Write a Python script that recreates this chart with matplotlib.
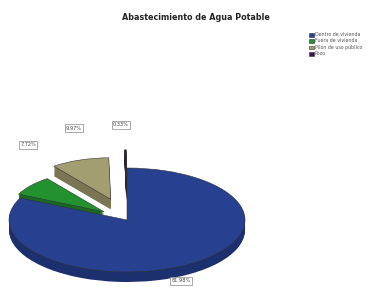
import matplotlib
matplotlib.use("Agg")
import matplotlib.pyplot as plt
import numpy as np

title = "Abastecimiento de Agua Potable"
categories = ["Dentro de vivienda", "Fuera de vivienda", "Pilón de uso público", "Pozo"]
percents = [81.98, 7.72, 9.97, 0.33]
colors = ["#27408f", "#23912f", "#a39e72", "#3d1846"]
side_colors = ["#1c2f6e", "#186a22", "#7a7654", "#20102a"]
explode = [0, 0.25, 0.42, 0.55]

fig = plt.figure(figsize=(3.92, 2.88), dpi=100)
ax = fig.add_axes([0, 0, 1, 1])

k = 118 / 52          # squash factor for the oblique view
cx, cy = 127, 68 * k  # pie center in data units
r = 118
depth = 10 * k
expl = [e * r for e in explode]  # pie() takes explode in data units
shrink = 0.8  # pulled-out slices look smaller in the original


def draw(center, cols, **wp):
    ws, _ = ax.pie(percents, colors=cols, explode=expl, startangle=90,
                   counterclock=False, radius=r, center=center, wedgeprops=wp)
    for w, e in zip(ws, explode):
        if e:
            w.set_radius(r * shrink)
    return ws


# side of the 3D pie: stacked copies underneath
for d in np.linspace(depth, 0, 12)[:-1]:
    draw((cx, cy - d), side_colors, linewidth=0)

wedges = draw((cx, cy), colors, linewidth=0.4, edgecolor="#333333")

ax.set_aspect("auto")
ax.set_xlim(0, 392)
ax.set_ylim(0, 288 * k)
ax.axis("off")

# percentage boxes
label_pos = [(181, 281), (28, 145), (74, 128), (121, 125)]
for p, (x, y) in zip(percents, label_pos):
    fig.text(x / 392, 1 - y / 288, f"{p:.2f}%", fontsize=3.6, color="#444444",
             ha="center", va="center",
             bbox=dict(boxstyle="square,pad=0.25", fc="white", ec="#888888", lw=0.5))

fig.text(196 / 392, 1 - 17 / 288, title, fontsize=5.8, fontweight="bold",
         ha="center", va="center", color="#222222")

fig.legend(wedges, categories, loc="upper left",
           bbox_to_anchor=(305 / 392, 1 - 28 / 288), frameon=False,
           fontsize=3.4, handlelength=0.9, handleheight=0.9,
           labelspacing=0.25, handletextpad=0.3, labelcolor="#555555")

fig.savefig("out.png", dpi=100)
